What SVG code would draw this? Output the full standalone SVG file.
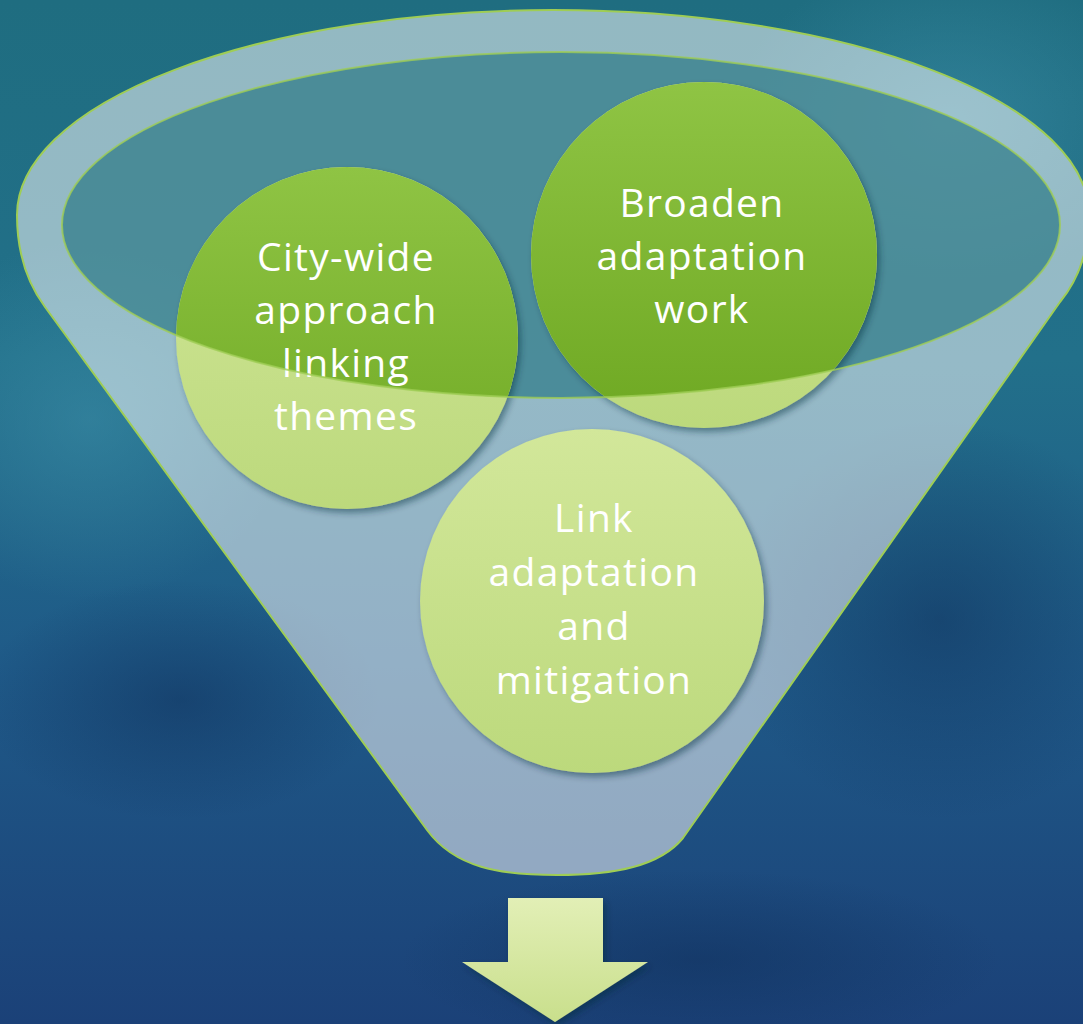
<svg xmlns="http://www.w3.org/2000/svg" width="1083" height="1024" viewBox="0 0 1083 1024">
<style>
.lbl{font-family:"Open Sans","Noto Sans","Liberation Sans",sans-serif;font-size:39px;fill:#ffffff;text-anchor:middle;letter-spacing:1.3px}
.edge{fill:none;stroke:#9fcd55;stroke-width:2}
</style>
<defs>
<linearGradient id="bg" x1="0" y1="0" x2="0" y2="1">
<stop offset="0" stop-color="#1f6d80"/>
<stop offset="0.35" stop-color="#22708a"/>
<stop offset="0.65" stop-color="#1f5a88"/>
<stop offset="1" stop-color="#1b4178"/>
</linearGradient>
<radialGradient id="glowL" cx="0.5" cy="0.5" r="0.5">
<stop offset="0" stop-color="#3d8fa8" stop-opacity="0.55"/>
<stop offset="1" stop-color="#3d8fa8" stop-opacity="0"/>
</radialGradient>
<radialGradient id="darkR" cx="0.5" cy="0.5" r="0.5">
<stop offset="0" stop-color="#0f2f5a" stop-opacity="0.5"/>
<stop offset="1" stop-color="#0f2f5a" stop-opacity="0"/>
</radialGradient>
<linearGradient id="pale" x1="0" y1="0" x2="0" y2="1">
<stop offset="0" stop-color="#d2e79a"/>
<stop offset="1" stop-color="#bcd97c"/>
</linearGradient>
<linearGradient id="sat" x1="0" y1="0" x2="0" y2="1">
<stop offset="0" stop-color="#8fc444"/>
<stop offset="1" stop-color="#6ea822"/>
</linearGradient>
<linearGradient id="arrowG" x1="0" y1="0" x2="0" y2="1">
<stop offset="0" stop-color="#e2efb6"/>
<stop offset="1" stop-color="#c9df8c"/>
</linearGradient>
<clipPath id="ellClip"><ellipse cx="561" cy="225" rx="499" ry="173"/></clipPath>
<filter id="shadow" x="-10%" y="-10%" width="125%" height="125%">
<feDropShadow dx="3" dy="4" stdDeviation="3" flood-color="#0b2a3a" flood-opacity="0.45"/>
</filter>
</defs>

<g id="background">
<rect x="0" y="0" width="1083" height="1024" fill="url(#bg)"/>
<ellipse cx="90" cy="420" rx="200" ry="180" fill="url(#glowL)"/>
<ellipse cx="950" cy="120" rx="220" ry="160" fill="url(#glowL)"/>
<ellipse cx="940" cy="620" rx="220" ry="200" fill="url(#darkR)"/>
<ellipse cx="180" cy="700" rx="200" ry="120" fill="url(#darkR)"/>
<ellipse cx="700" cy="960" rx="300" ry="90" fill="url(#darkR)"/>
</g>

<g id="funnel">
<path d="M45,307 C25,280 17,250 17,215 A536,205 0 0 1 1089,215 C1089,250 1078,280 1060,302 L683,838 C660,866 615,875 557,875 C500,875 455,868 427,830 Z" fill="#ffffff" fill-opacity="0.52"/>
<ellipse cx="561" cy="225" rx="499" ry="173" fill="#1a6e7c" fill-opacity="0.6"/>
<path class="edge" d="M45,307 C25,280 17,250 17,215 A536,205 0 0 1 1089,215 C1089,250 1078,280 1060,302 L683,838 C660,866 615,875 557,875 C500,875 455,868 427,830 Z"/>
</g>

<g id="node-citywide">
<circle cx="347" cy="338" r="171" fill="url(#pale)" filter="url(#shadow)"/>
<circle cx="347" cy="338" r="171" fill="url(#sat)" clip-path="url(#ellClip)"/>
<text class="lbl" x="346" y="271">City-wide</text>
<text class="lbl" x="346" y="324">approach</text>
<text class="lbl" x="346" y="377">linking</text>
<text class="lbl" x="346" y="430">themes</text>
</g>

<g id="node-broaden">
<circle cx="704" cy="255" r="173" fill="url(#pale)" filter="url(#shadow)"/>
<circle cx="704" cy="255" r="173" fill="url(#sat)" clip-path="url(#ellClip)"/>
<text class="lbl" x="702" y="217">Broaden</text>
<text class="lbl" x="702" y="270">adaptation</text>
<text class="lbl" x="702" y="323">work</text>
</g>

<g id="node-link">
<circle cx="592" cy="601" r="172" fill="url(#pale)" filter="url(#shadow)"/>
<text class="lbl" x="594" y="532">Link</text>
<text class="lbl" x="594" y="586">adaptation</text>
<text class="lbl" x="594" y="640">and</text>
<text class="lbl" x="594" y="694">mitigation</text>
</g>

<g id="rim">
<ellipse class="edge" cx="561" cy="225" rx="499" ry="173" stroke-opacity="0.8"/>
</g>

<g id="connectors">
<path id="arrow" d="M508,898 L603,898 L603,962 L648,962 L555,1022 L462,962 L508,962 Z" fill="url(#arrowG)" filter="url(#shadow)"/>
</g>
</svg>
